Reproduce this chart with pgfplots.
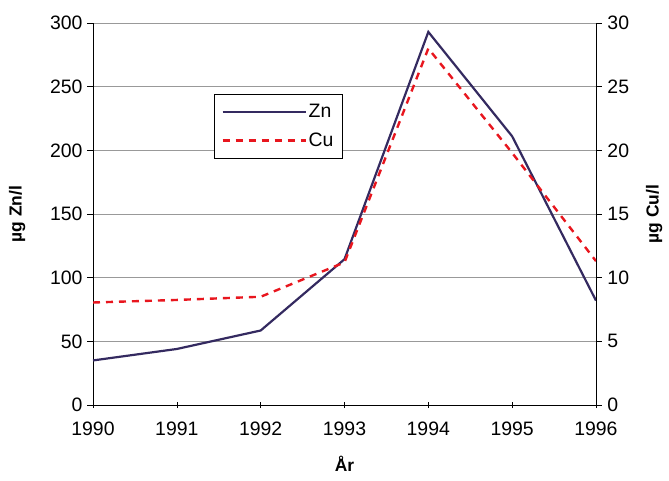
\documentclass[border=0pt]{standalone}
\usepackage{fontspec}
\setmainfont{Liberation Sans}
\usepackage{pgfplots}
\pgfplotsset{compat=1.18}
\definecolor{znline}{RGB}{52,42,96}
\definecolor{culine}{RGB}{232,22,30}
\pgfplotsset{
  common/.style={
    scale only axis,
    width=503bp, height=382bp,
    xmin=1990, xmax=1996,
    /pgf/number format/assume math mode=true,
    /pgf/number format/1000 sep={},
    tick label style={font=\fontsize{19.5}{21}\selectfont},
    label style={font=\fontsize{17.5}{19}\selectfont\bfseries},
    tick style={black, line width=0.6pt},
    major tick length=6bp,
  },
}
\begin{document}
\begin{tikzpicture}
\path[use as bounding box] (-93bp,-76bp) rectangle (576bp,405bp);
\begin{axis}[common,
  at={(0,0)}, anchor=south west,
  axis x line*=bottom, axis y line*=left,
  axis line style={black, line width=0.8pt},
  ymin=0, ymax=300, ytick={0,50,...,300},
  xtick={1990,...,1996},
  xtick align=center, ytick align=outside,
  xticklabel style={yshift=-10bp},
  yticklabel style={xshift=-1bp},
  ymajorgrids, grid style={gray!80, line width=0.6pt},
  xlabel={År}, ylabel={µg Zn/l},
  xlabel style={yshift=-14bp},
  ylabel style={yshift=18bp},
]
\addplot[znline, line width=2.2pt] coordinates {
  (1990,35) (1991,44) (1992,58.5) (1993,114.5) (1994,293) (1995,211) (1996,82)
};
\end{axis}
\begin{axis}[common,
  at={(0,0)}, anchor=south west,
  axis x line=none, axis y line*=right,
  axis line style={black, line width=0.8pt},
  ymin=0, ymax=30, ytick={0,5,...,30},
  ytick align=outside,
  yticklabel style={xshift=2bp},
  ylabel={µg Cu/l},
  ylabel style={yshift=-10bp},
  legend style={at={(rel axis cs:0.2406,0.8141)}, anchor=north west,
    draw=black, line width=0.6pt, fill=white,
    font=\fontsize{19.5}{21}\selectfont,
    inner xsep=7bp, inner ysep=8bp, row sep=10bp},
  legend cell align=left,
  legend image code/.code={\draw[#1] (0bp,0bp) -- (83bp,0bp);},
]
\addlegendimage{znline, line width=2.2pt}
\addlegendentry{Zn}
\addplot[culine, line width=2.4pt, dash pattern=on 7bp off 6bp] coordinates {
  (1990,8.05) (1991,8.25) (1992,8.5) (1993,11.2) (1994,28.0) (1995,19.8) (1996,11.3)
};
\addlegendentry{Cu}
\end{axis}
\end{tikzpicture}
\end{document}
